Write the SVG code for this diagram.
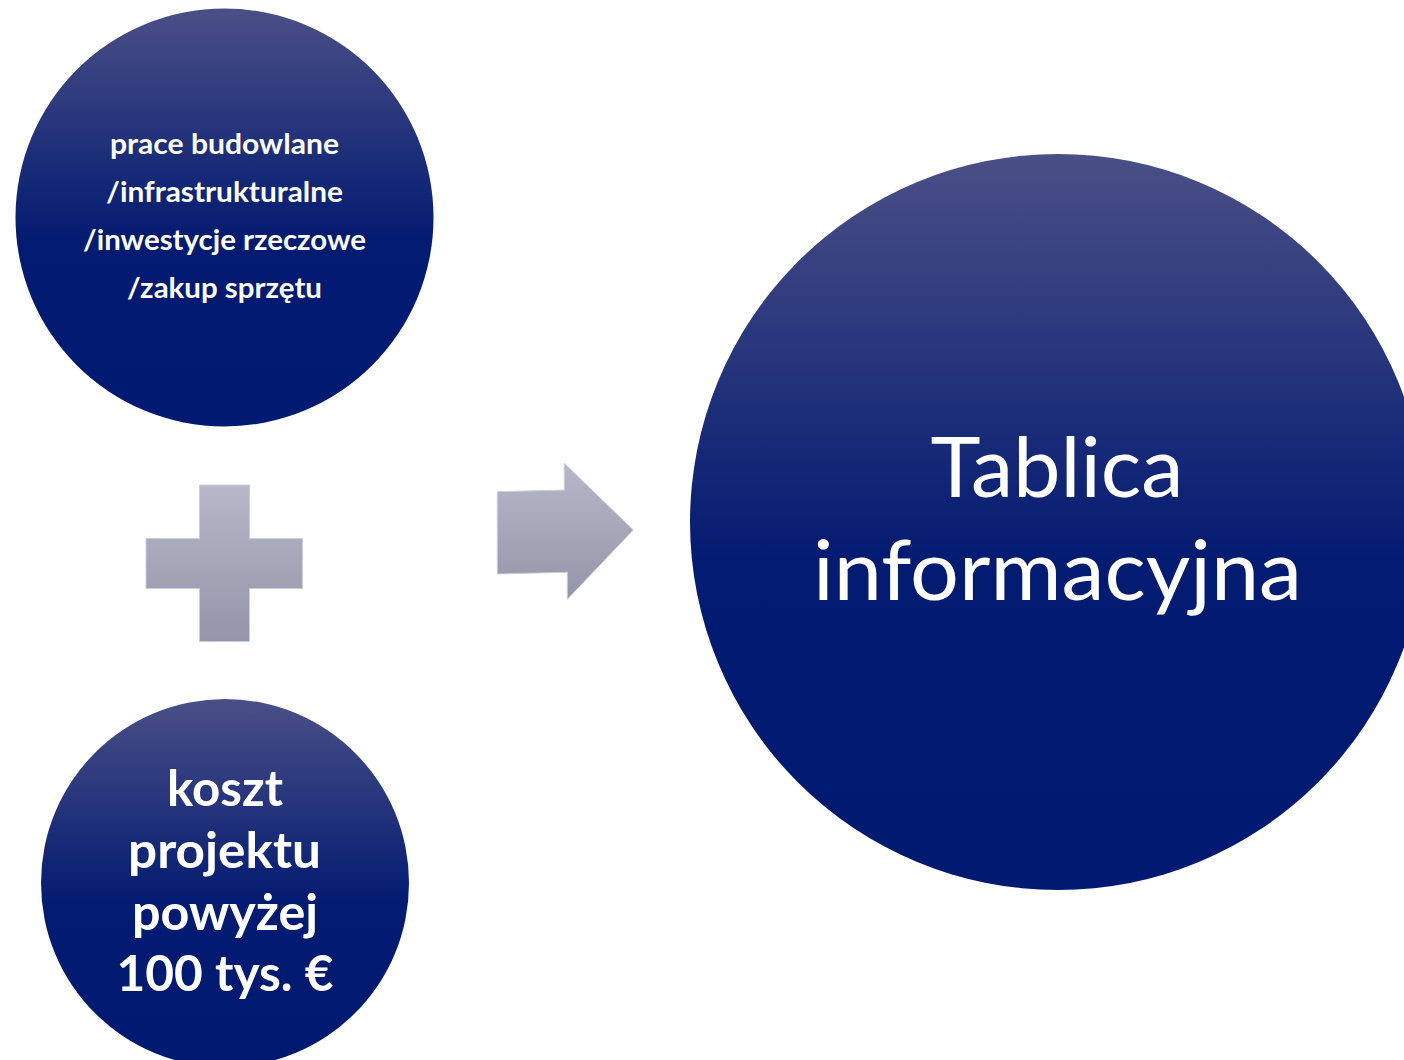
<svg xmlns="http://www.w3.org/2000/svg" width="1404" height="1060" viewBox="0 0 1404 1060">
<defs>
<linearGradient id="blue" x1="0" y1="0" x2="0" y2="1">
<stop offset="0" stop-color="#4a4f86"/>
<stop offset="0.55" stop-color="#031b71"/>
<stop offset="1" stop-color="#001a71"/>
</linearGradient>
<linearGradient id="gray" x1="0" y1="0" x2="0" y2="1">
<stop offset="0" stop-color="#b6b8ca"/>
<stop offset="1" stop-color="#9495a8"/>
</linearGradient>
<style>
.node{fill:url(#blue);}
.t{fill:#ffffff;font-family:Lato,"Open Sans","Liberation Sans",sans-serif;text-anchor:middle;}
.b{font-weight:bold;}
.sym{fill:url(#gray);stroke:#cdcedb;stroke-width:1;}
</style>
</defs>
<rect width="1404" height="1060" fill="#ffffff"/>
<g id="node-prace">
<circle class="node" cx="224.5" cy="217.5" r="209"/>
<text class="t b" font-size="28" x="224.5" y="154" textLength="229" lengthAdjust="spacingAndGlyphs">prace budowlane</text>
<text class="t b" font-size="28" x="224.5" y="202" textLength="237" lengthAdjust="spacingAndGlyphs">/infrastrukturalne</text>
<text class="t b" font-size="28" x="224.5" y="250" textLength="283" lengthAdjust="spacingAndGlyphs">/inwestycje rzeczowe</text>
<text class="t b" font-size="28" x="224.5" y="298" textLength="195" lengthAdjust="spacingAndGlyphs">/zakup sprzętu</text>
</g>
<g id="node-koszt">
<circle class="node" cx="225" cy="883" r="184"/>
<text class="t b" font-size="50" x="225" y="806" textLength="116" lengthAdjust="spacingAndGlyphs">koszt</text>
<text class="t b" font-size="50" x="224.5" y="868" textLength="193" lengthAdjust="spacingAndGlyphs">projektu</text>
<text class="t b" font-size="50" x="225" y="930" textLength="186" lengthAdjust="spacingAndGlyphs">powyżej</text>
<text class="t b" font-size="50" x="225" y="991" textLength="217" lengthAdjust="spacingAndGlyphs">100 tys. €</text>
</g>
<g id="node-tablica">
<circle class="node" cx="1058" cy="522" r="368"/>
<text class="t" font-size="84" x="1057" y="497" textLength="253" lengthAdjust="spacingAndGlyphs">Tablica</text>
<text class="t" font-size="84" x="1057.5" y="600" textLength="489" lengthAdjust="spacingAndGlyphs">informacyjna</text>
</g>
<g id="connectors">
<path id="plus" class="sym" d="M199.5,485 H249.5 V538.5 H302.5 V588.5 H249.5 V641.5 H199.5 V588.5 H146 V538.5 H199.5 Z"/>
<polygon id="arrow" class="sym" points="497.3,491.7 564.3,490 564.3,463.3 633.3,530 567.3,599.3 567.3,572.3 497.3,574"/>
</g>
</svg>
